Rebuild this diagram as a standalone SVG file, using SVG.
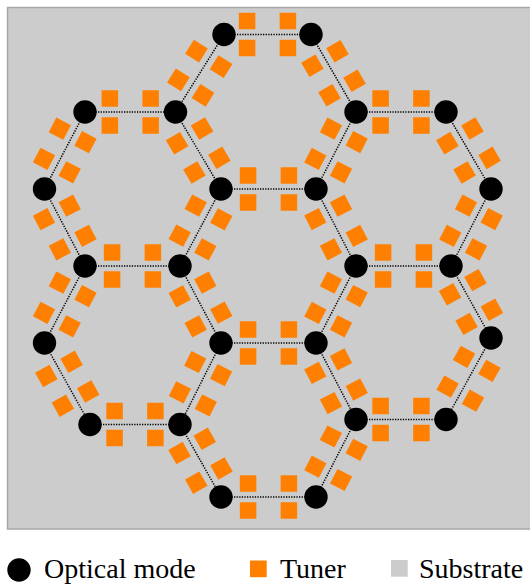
<svg xmlns="http://www.w3.org/2000/svg" xmlns:xlink="http://www.w3.org/1999/xlink" width="530" height="585" viewBox="0 0 530 585">
<style>
.sub{fill:#cccccc;stroke:#a8a8a8;stroke-width:1.5}
.tun rect,.tuner{fill:#ff8000}
.edge{stroke:#000;stroke-width:1.5;stroke-dasharray:1.3 1.3;fill:none}
.mode{fill:#000}
</style>
<defs>
<g id="tH" class="tun">
<rect x="12.15" y="-21.75" width="16.5" height="16.5"/>
<rect x="12.15" y="5.25" width="16.5" height="16.5"/>
<rect x="-28.65" y="-21.75" width="16.5" height="16.5"/>
<rect x="-28.65" y="5.25" width="16.5" height="16.5"/>
</g>
<g id="tD" class="tun">
<rect x="8.75" y="-22.75" width="16.5" height="16.5"/>
<rect x="8.75" y="6.25" width="16.5" height="16.5"/>
<rect x="-25.25" y="-22.75" width="16.5" height="16.5"/>
<rect x="-25.25" y="6.25" width="16.5" height="16.5"/>
</g>
</defs>
<rect id="substrate" class="sub" x="7.5" y="7.5" width="524" height="521.5"/>
<g id="tuners">
<use xlink:href="#tH" transform="translate(267.5,34.5)"/>
<use xlink:href="#tH" transform="translate(130.25,112)"/>
<use xlink:href="#tH" transform="translate(401,112)"/>
<use xlink:href="#tH" transform="translate(268.5,189)"/>
<use xlink:href="#tH" transform="translate(132.5,266)"/>
<use xlink:href="#tH" transform="translate(403.5,266)"/>
<use xlink:href="#tH" transform="translate(268.5,343)"/>
<use xlink:href="#tH" transform="translate(135,424.5)"/>
<use xlink:href="#tH" transform="translate(401,419.5)"/>
<use xlink:href="#tH" transform="translate(268.5,497)"/>
<use xlink:href="#tD" transform="translate(333.5,73.25) rotate(59.86)"/>
<use xlink:href="#tD" transform="translate(336,150.5) rotate(117.45)"/>
<use xlink:href="#tD" transform="translate(198.25,150.5) rotate(59.42)"/>
<use xlink:href="#tD" transform="translate(199.75,73.25) rotate(122.04)"/>
<use xlink:href="#tD" transform="translate(64.75,150.5) rotate(117.75)"/>
<use xlink:href="#tD" transform="translate(200.5,227.5) rotate(118.03)"/>
<use xlink:href="#tD" transform="translate(64.75,227.5) rotate(62.25)"/>
<use xlink:href="#tD" transform="translate(468.5,150.5) rotate(59.69)"/>
<use xlink:href="#tD" transform="translate(471,227.5) rotate(117.45)"/>
<use xlink:href="#tD" transform="translate(336,227.5) rotate(62.55)"/>
<use xlink:href="#tD" transform="translate(336,304.5) rotate(117.45)"/>
<use xlink:href="#tD" transform="translate(200.5,304.5) rotate(61.97)"/>
<use xlink:href="#tD" transform="translate(200.5,383.75) rotate(116.7)"/>
<use xlink:href="#tD" transform="translate(67.25,383.75) rotate(60.83)"/>
<use xlink:href="#tD" transform="translate(64.75,304.5) rotate(117.75)"/>
<use xlink:href="#tD" transform="translate(471,302) rotate(60.95)"/>
<use xlink:href="#tD" transform="translate(468.5,378.75) rotate(118.9)"/>
<use xlink:href="#tD" transform="translate(336,381.25) rotate(62.4)"/>
<use xlink:href="#tD" transform="translate(336,458.25) rotate(117.3)"/>
<use xlink:href="#tD" transform="translate(200.5,460.75) rotate(60.5)"/>
</g>
<g id="connectors" class="edge">
<line x1="224" y1="34.5" x2="311" y2="34.5"/>
<line x1="85" y1="112" x2="175.5" y2="112"/>
<line x1="356" y1="112" x2="446" y2="112"/>
<line x1="221" y1="189" x2="316" y2="189"/>
<line x1="85" y1="266" x2="180" y2="266"/>
<line x1="356" y1="266" x2="451" y2="266"/>
<line x1="221" y1="343" x2="316" y2="343"/>
<line x1="90" y1="424.5" x2="180" y2="424.5"/>
<line x1="356" y1="419.5" x2="446" y2="419.5"/>
<line x1="221" y1="497" x2="316" y2="497"/>
<line x1="311" y1="34.5" x2="356" y2="112"/>
<line x1="356" y1="112" x2="316" y2="189"/>
<line x1="175.5" y1="112" x2="221" y2="189"/>
<line x1="224" y1="34.5" x2="175.5" y2="112"/>
<line x1="85" y1="112" x2="44.5" y2="189"/>
<line x1="221" y1="189" x2="180" y2="266"/>
<line x1="44.5" y1="189" x2="85" y2="266"/>
<line x1="446" y1="112" x2="491" y2="189"/>
<line x1="491" y1="189" x2="451" y2="266"/>
<line x1="316" y1="189" x2="356" y2="266"/>
<line x1="356" y1="266" x2="316" y2="343"/>
<line x1="180" y1="266" x2="221" y2="343"/>
<line x1="221" y1="343" x2="180" y2="424.5"/>
<line x1="44.5" y1="343" x2="90" y2="424.5"/>
<line x1="85" y1="266" x2="44.5" y2="343"/>
<line x1="451" y1="266" x2="491" y2="338"/>
<line x1="491" y1="338" x2="446" y2="419.5"/>
<line x1="316" y1="343" x2="356" y2="419.5"/>
<line x1="356" y1="419.5" x2="316" y2="497"/>
<line x1="180" y1="424.5" x2="221" y2="497"/>
</g>
<g id="node-A"><circle class="mode" cx="224" cy="34.5" r="11.7"/></g>
<g id="node-B"><circle class="mode" cx="311" cy="34.5" r="11.7"/></g>
<g id="node-C"><circle class="mode" cx="85" cy="112" r="11.7"/></g>
<g id="node-D"><circle class="mode" cx="175.5" cy="112" r="11.7"/></g>
<g id="node-E"><circle class="mode" cx="356" cy="112" r="11.7"/></g>
<g id="node-F"><circle class="mode" cx="446" cy="112" r="11.7"/></g>
<g id="node-G"><circle class="mode" cx="44.5" cy="189" r="11.7"/></g>
<g id="node-H"><circle class="mode" cx="221" cy="189" r="11.7"/></g>
<g id="node-I"><circle class="mode" cx="316" cy="189" r="11.7"/></g>
<g id="node-J"><circle class="mode" cx="491" cy="189" r="11.7"/></g>
<g id="node-K"><circle class="mode" cx="85" cy="266" r="11.7"/></g>
<g id="node-L"><circle class="mode" cx="180" cy="266" r="11.7"/></g>
<g id="node-M"><circle class="mode" cx="356" cy="266" r="11.7"/></g>
<g id="node-N"><circle class="mode" cx="451" cy="266" r="11.7"/></g>
<g id="node-O"><circle class="mode" cx="44.5" cy="343" r="11.7"/></g>
<g id="node-P"><circle class="mode" cx="221" cy="343" r="11.7"/></g>
<g id="node-Q"><circle class="mode" cx="316" cy="343" r="11.7"/></g>
<g id="node-R"><circle class="mode" cx="491" cy="338" r="11.7"/></g>
<g id="node-S"><circle class="mode" cx="90" cy="424.5" r="11.7"/></g>
<g id="node-T"><circle class="mode" cx="180" cy="424.5" r="11.7"/></g>
<g id="node-U"><circle class="mode" cx="356" cy="419.5" r="11.7"/></g>
<g id="node-V"><circle class="mode" cx="446" cy="419.5" r="11.7"/></g>
<g id="node-W"><circle class="mode" cx="221" cy="497" r="11.7"/></g>
<g id="node-X"><circle class="mode" cx="316" cy="497" r="11.7"/></g>
<g id="legend">
<circle class="mode" cx="19" cy="570" r="11.7"/>
<text x="44" y="578" font-family="Liberation Serif, Times New Roman, serif" font-size="28">Optical mode</text>
<rect class="tuner" x="250" y="560.5" width="16.7" height="16.7"/>
<text x="280" y="578" font-family="Liberation Serif, Times New Roman, serif" font-size="28">Tuner</text>
<rect x="391" y="560" width="16.7" height="16.7" fill="#cccccc"/>
<text x="419" y="578" font-family="Liberation Serif, Times New Roman, serif" font-size="28">Substrate</text>
</g>
</svg>
